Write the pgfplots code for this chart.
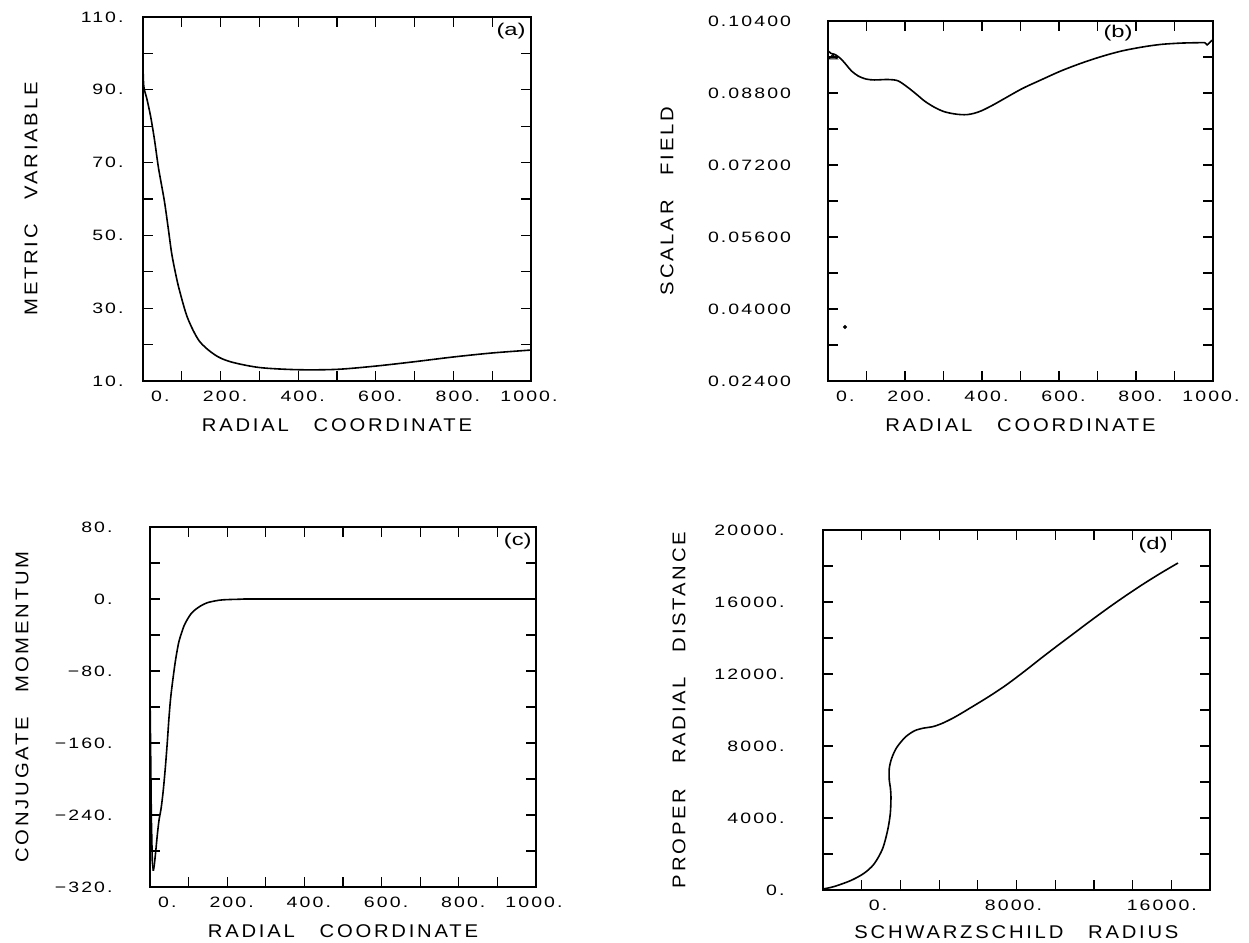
\documentclass[border=0pt]{standalone}
\usepackage{fontspec}
\setmainfont{Liberation Sans}
\newfontfamily\tickff{Liberation Sans}[FakeStretch=1.3,LetterSpace=14]
\newfontfamily\labff{Liberation Sans}[FakeStretch=1.1,LetterSpace=15]
\newfontfamily\panff{Liberation Sans}[FakeStretch=1.4]
\newcommand\tickfont{\tickff\fontsize{7.5}{8}\selectfont}
\newcommand\labfont{\labff\fontsize{9.2}{10}\selectfont}
\newcommand\panfont{\panff\fontsize{8.5}{9}\selectfont}
\newcommand\gap{\hspace{1.35em}}
\usepackage{pgfplots}
\pgfplotsset{compat=1.18}
\pgfplotsset{
 panel/.style={
  scale only axis, anchor=south west,
  axis line style={line width=0.7pt},
  every tick/.style={black, line width=0.6pt},
  major tick length=4.8pt, tick align=inside,
  scaled ticks=false,
  xticklabel style={font=\tickfont, anchor=north east, inner sep=0pt, yshift=-5pt, xshift=13.5pt},
  yticklabel style={font=\tickfont, anchor=east, inner sep=0pt, xshift=-9.5pt},
  xlabel style={font=\labfont, at={(axis description cs:0.5,0)}, anchor=north, inner sep=0pt, yshift=-18.5pt},
  ylabel style={font=\labfont, anchor=south, inner sep=0pt},
 },
 radial/.style={xmin=0, xmax=1000, xtick={0,100,...,1000},
  xticklabels={0.,{},200.,{},400.,{},600.,{},800.,{},1000.},
  xlabel={RADIAL\gap COORDINATE}},
 curve/.style={black, line width=0.8pt, no marks, smooth, tension=0.5},
}
\begin{document}
\begin{tikzpicture}
\useasboundingbox (0,0) rectangle (624.5pt,471.5pt);
% (a)
\begin{axis}[panel, radial, at={(71.5pt,281pt)}, width=194pt, height=182pt,
  ymin=10, ymax=110, ytick={10,20,...,110},
  yticklabels={10.,{},30.,{},50.,{},70.,{},90.,{},110.},
  ylabel={METRIC\gap VARIABLE},
  ylabel style={at={(axis description cs:-0.2706,0.5)}}]
\addplot[curve] coordinates {(0,97)(2,91)(10,87.5)(20,82.5)(30,76)(40,68.5)(55,59.5)(65,52)(74,45)(85,39)(95,34.5)(115,27.3)(145,21)(185,17.2)(225,15.3)(300,13.7)(400,13.1)(500,13.2)(600,14.1)(700,15.3)(800,16.6)(900,17.7)(1000,18.5)};
\node[anchor=north east, inner sep=0pt, font=\panfont, xshift=-2.5pt, yshift=-3pt] at (rel axis cs:1,1) {(a)};
\end{axis}
% (b)
\begin{axis}[panel, radial, at={(414pt,281pt)}, width=192.5pt, height=180pt,
  ymin=0.024, ymax=0.104,
  ytick={0.024,0.032,0.040,0.048,0.056,0.064,0.072,0.080,0.088,0.096,0.104},
  yticklabels={0.02400,{},0.04000,{},0.05600,{},0.07200,{},0.08800,{},0.10400},
  ylabel={SCALAR\gap FIELD},
  ylabel style={at={(axis description cs:-0.4,0.5)}},
  yticklabel style={xshift=-8.75pt}]
\addplot[curve] coordinates {(0,0.0974)(8,0.0968)(17,0.0966)(28,0.0960)(39,0.0951)(50,0.0940)(61,0.0929)(78,0.0918)(99,0.0911)(121,0.0909)(156,0.0910)(182,0.0907)(208,0.0892)(230,0.0877)(251,0.0862)(275,0.0849)(300,0.0839)(325,0.0834)(345,0.0832)(362,0.0832)(380,0.0835)(400,0.0841)(430,0.0854)(459,0.0868)(505,0.0890)(553,0.0909)(605,0.0929)(657,0.0946)(710,0.0961)(761,0.0973)(815,0.0982)(865,0.0988)(920,0.0991)(979,0.0992)};
\addplot[black, line width=0.8pt, no marks] coordinates {(979,0.0992)(985,0.0987)(1000,0.0999)};
\addplot[black, line width=0.5pt, no marks] coordinates {(1.7,0.0956)(24,0.0956)(12,0.0965)(1.7,0.0956)};
\addplot[only marks, mark=*, mark size=0.8pt, black] coordinates {(44,0.036)};
\node[anchor=north east, inner sep=0pt, font=\panfont, xshift=-40pt, yshift=-2pt] at (rel axis cs:1,1) {(b)};
\end{axis}
% (c)
\begin{axis}[panel, radial, at={(75pt,28pt)}, width=193pt, height=180pt,
  ymin=-320, ymax=80, ytick={-320,-280,...,80},
  yticklabels={−320.,{},−240.,{},−160.,{},−80.,{},0.,{},80.},
  ylabel={CONJUGATE\gap MOMENTUM},
  ylabel style={at={(axis description cs:-0.3135,0.5)}},
  yticklabel style={xshift=-9pt}]
\addplot[black, line width=0.8pt, no marks] coordinates {(0,-104)(1.7,-170)(3.5,-244)(6,-292)(8.6,-302)};
\addplot[curve] coordinates {(8.6,-302)(11,-296)(14.7,-281)(19,-262)(23.3,-246)(29,-232)(34.5,-212)(40,-186)(45,-158)(49,-133)(53.5,-110)(60,-87)(66.5,-67)(74,-49)(80,-40)(88,-30)(96.8,-22.6)(107,-16)(118,-11.6)(132,-7.5)(148,-4.2)(170,-2)(190,-0.9)(230,-0.3)(300,0)(1000,0)};
\node[anchor=north east, inner sep=0pt, font=\panfont, xshift=-2pt, yshift=-3pt] at (rel axis cs:1,1) {(c)};
\end{axis}
% (d)
\begin{axis}[panel, at={(411.5pt,26.5pt)}, width=193.5pt, height=180pt,
  xmin=-2000, xmax=18000, xtick={-2000,0,...,18000},
  xticklabels={{},0.,{},{},{},8000.,{},{},{},16000.,{}},
  xticklabel style={xshift=-0.5pt},
  xlabel={SCHWARZSCHILD\gap RADIUS},
  xlabel style={yshift=1pt},
  ymin=0, ymax=20000, ytick={0,2000,...,20000},
  yticklabels={0.,{},4000.,{},8000.,{},12000.,{},16000.,{},20000.},
  ylabel={PROPER\gap RADIAL\gap DISTANCE},
  ylabel style={at={(axis description cs:-0.354,0.5)}},
  yticklabel style={xshift=-9.5pt}]
\addplot[curve] coordinates {(-2000,56)(-1443,186)(-574,521)(122,930)(643,1451)(1078,2288)(1339,3312)(1478,4242)(1513,5172)(1480,5700)(1426,6102)(1426,6753)(1548,7312)(1800,7900)(2250,8490)(2730,8845)(3200,8995)(3640,9065)(4125,9241)(4822,9611)(5692,10167)(6562,10740)(7431,11360)(8400,12140)(9347,12940)(10200,13640)(11091,14360)(11960,15060)(12830,15740)(13700,16390)(14569,17010)(15450,17600)(16345,18166)};
\node[anchor=north east, inner sep=0pt, font=\panfont, xshift=-21pt, yshift=-3.5pt] at (rel axis cs:1,1) {(d)};
\end{axis}
\end{tikzpicture}
\end{document}
